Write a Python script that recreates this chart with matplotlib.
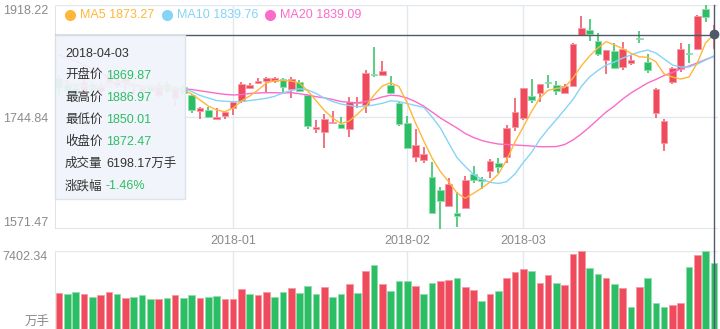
import matplotlib
matplotlib.use('Agg')
import matplotlib.pyplot as plt
from matplotlib.patches import Rectangle
from matplotlib.lines import Line2D

plt.rcParams['font.family'] = ['Liberation Sans', 'Noto Sans CJK SC', 'DejaVu Sans']

# ---- data ----
open_ = [1805, 1797, 1790, 1780, 1796, 1786, 1800, 1795, 1800, 1795, 1785, 1792, 1780, 1797, 1775, 1792,
         1779.36, 1755.06, 1756.14, 1742.67, 1746.85, 1759.70, 1770.07, 1790.66, 1797.47, 1801.50,
         1801.50, 1803.66, 1788.18, 1799.95, 1779.36, 1727.19, 1722.55, 1735.55, 1734.00, 1726.73,
         1766.51, 1763.88, 1811.87, 1809.86, 1794.84, 1767.44, 1735.55, 1682.92, 1678.74, 1652.89,
         1632.30, 1608.00, 1597.16, 1603.97, 1656.60, 1649.33, 1661.71, 1674.10, 1683.85, 1730.29,
         1743.29, 1777.81, 1781.99, 1799.02, 1794.84, 1782.92, 1793.29, 1872.24, 1879.98, 1863.42,
         1833.54, 1847.94, 1823.17, 1828.43, 1868.06, 1830.91, 1751.96, 1704.59, 1799.95, 1819.14,
         1844.84, 1850.10, 1912.02, 1869.87]
close = [1790, 1786, 1775, 1800, 1788, 1794, 1812, 1800, 1805, 1795, 1790, 1786, 1795, 1785, 1790, 1783,
         1756.14, 1758.77, 1745.77, 1745.77, 1753.51, 1768.99, 1795.92, 1794.84, 1801.50, 1806.14,
         1805.21, 1792.21, 1803.66, 1786.02, 1731.84, 1730.29, 1741.74, 1738.03, 1727.81, 1768.99,
         1768.99, 1813.88, 1809.86, 1816.98, 1782.92, 1734.47, 1696.85, 1701.96, 1688.03, 1597.16,
         1615.74, 1641.12, 1592.05, 1647.78, 1647.78, 1646.70, 1677.19, 1668.37, 1728.74, 1753.51,
         1789.73, 1771.62, 1795.92, 1797.47, 1786.02, 1793.29, 1857.84, 1882.61, 1873.32, 1842.36,
         1849.02, 1821.62, 1850.10, 1833.54, 1865.58, 1818.06, 1788.18, 1739.58, 1820.69, 1850.57,
         1842.36, 1901.65, 1900.20, 1872.47]
high = [1810, 1802, 1795, 1805, 1800, 1798, 1816, 1804, 1808, 1798, 1794, 1796, 1798, 1800, 1793, 1795,
        1780.90, 1760.32, 1760.32, 1758.77, 1753.51, 1770.54, 1799.95, 1797.47, 1805.21, 1807.69,
        1807.69, 1806.14, 1806.76, 1802.58, 1779.36, 1740.66, 1749.95, 1754.59, 1744.84, 1776.73,
        1776.73, 1818.06, 1853.20, 1831.99, 1808.77, 1768.99, 1746.85, 1726.73, 1699.33, 1675.18,
        1637.41, 1650.41, 1628.74, 1654.44, 1669.45, 1652.89, 1680.29, 1681.37, 1732.92, 1774.25,
        1789.73, 1804.13, 1795.92, 1810.32, 1801.03, 1795.92, 1859.39, 1902.12, 1897.01, 1875.80,
        1849.02, 1859.39, 1861.87, 1841.28, 1878.43, 1842.83, 1789.73, 1741.74, 1823.17, 1859.39,
        1858.31, 1903.20, 1918.22, 1886.97]
low = [1778, 1780, 1770, 1772, 1783, 1782, 1796, 1790, 1786, 1780, 1780, 1782, 1776, 1782, 1762, 1780,
       1751.96, 1741.74, 1743.29, 1741.74, 1741.74, 1748.40, 1767.44, 1788.18, 1795.92, 1784.47,
       1797.47, 1782.92, 1775.18, 1784.47, 1726.73, 1720.07, 1696.85, 1734.47, 1726.26, 1714.81,
       1758.77, 1751.96, 1807.69, 1809.86, 1780.90, 1731.37, 1696.85, 1676.11, 1674.56, 1597.16,
       1571.50, 1608.00, 1575.49, 1603.97, 1643.60, 1633.38, 1650.41, 1658.15, 1673.63, 1723.63,
       1740.66, 1767.44, 1768.99, 1789.73, 1779.36, 1781.99, 1793.29, 1872.24, 1863.42, 1840.20,
       1811.87, 1821.62, 1818.06, 1825.80, 1859.39, 1813.88, 1744.22, 1693.14, 1796.39, 1815.43,
       1828.43, 1849.02, 1892.83, 1850.01]
volume = [3375, 3281, 3526, 3281, 3054, 3214, 3526, 3309, 2959, 3025, 3214, 2865, 2865, 2959, 3243, 2931,
          3243, 2931, 3025, 3091, 2808, 2808, 3753, 3309, 3186, 3498, 3025, 3498, 3876, 3432,
          4065, 3309, 3971, 2997, 3309, 4254, 3432, 5483, 6022, 4254, 3593, 4510, 4538, 4065,
          3281, 4320, 4538, 4632, 4850, 3971, 3659, 2647, 3281, 3593, 4822, 5360, 5644, 5455,
          4349, 5077, 4377, 4188, 7062, 7380, 5795, 5200, 4793, 4254, 3848, 2080, 3942, 4793,
          2458, 2080, 2269, 2430, 5861, 6968, 7402.34, 6198.17]
vol_up = [1, 0, 0, 1, 0, 1, 1, 0, 1, 0, 0, 0, 1, 0, 1, 0, 0, 1, 0, 0, 1, 1, 1, 0, 1, 1, 0, 0, 1, 0,
          0, 0, 1, 0, 0, 1, 0, 1, 0, 1, 0, 0, 0, 1, 0, 0, 1, 1, 0, 1, 1, 0, 1, 0, 1, 1, 1, 0, 1, 1,
          0, 1, 1, 1, 0, 0, 1, 0, 1, 0, 1, 0, 0, 0, 1, 1, 0, 1, 0, 0]
ma5 = [1802.6, 1799.5, 1796.4, 1793.3, 1791.7, 1793.3, 1796.4, 1799.5, 1799.5, 1796.4, 1793.3, 1791.7,
       1791.7, 1790.2, 1788.6, 1787.1, 1780.9, 1771.6, 1762.3, 1756.1, 1753.5, 1759.2, 1770.1, 1777.8,
       1787.1, 1797.9, 1801.5, 1801.8, 1801.0, 1797.9, 1785.6, 1770.8, 1755.4, 1743.8, 1735.2, 1739.1,
       1749.9, 1761.6, 1779.4, 1793.3, 1798.4, 1792.5, 1767.0, 1736.0, 1708.2, 1681.8, 1660.9, 1645.2,
       1627.7, 1619.5, 1627.2, 1635.4, 1644.7, 1657.1, 1678.7, 1706.6, 1729.8, 1753.8, 1774.7, 1786.6,
       1789.6, 1791.0, 1805.7, 1824.3, 1839.7, 1852.1, 1861.9, 1856.8, 1851.3, 1843.9, 1838.6, 1837.7,
       1830.9, 1811.9, 1807.2, 1804.1, 1807.2, 1828.9, 1859.9, 1873.27]
ma10 = [1796.4, 1794.8, 1793.3, 1793.3, 1791.7, 1791.7, 1791.7, 1793.3, 1793.3, 1793.3, 1791.7, 1791.7,
        1791.7, 1790.2, 1790.2, 1790.2, 1784.8, 1778.6, 1774.7, 1770.8, 1769.6, 1769.0, 1769.3, 1770.8,
        1772.4, 1774.3, 1777.3, 1782.5, 1786.3, 1789.1, 1787.1, 1781.7, 1774.7, 1769.3, 1765.4, 1763.1,
        1761.3, 1761.9, 1763.9, 1766.5, 1770.4, 1769.3, 1766.2, 1763.1, 1760.3, 1745.3, 1728.3, 1705.1,
        1682.6, 1668.7, 1656.3, 1648.6, 1644.2, 1642.4, 1645.2, 1657.1, 1674.9, 1690.4, 1710.5, 1726.7,
        1741.4, 1756.9, 1772.4, 1792.5, 1807.2, 1817.3, 1825.8, 1830.4, 1836.6, 1841.3, 1845.9, 1849.0,
        1844.4, 1835.1, 1825.8, 1822.7, 1822.7, 1827.4, 1833.5, 1839.76]
ma20 = [1841.3, 1836.6, 1832.0, 1825.8, 1819.6, 1813.4, 1807.2, 1802.6, 1797.9, 1794.8, 1793.3, 1791.7,
        1791.0, 1790.2, 1789.4, 1788.6, 1787.9, 1785.9, 1784.0, 1782.0, 1780.4, 1779.4, 1780.1, 1781.7,
        1782.5, 1782.9, 1782.9, 1782.5, 1782.9, 1781.4, 1779.4, 1776.7, 1775.0, 1772.4, 1769.3, 1768.1,
        1767.4, 1769.3, 1772.4, 1776.3, 1779.1, 1778.1, 1774.7, 1769.0, 1762.0, 1753.0, 1743.8, 1736.0,
        1728.3, 1719.8, 1713.6, 1708.9, 1705.8, 1703.5, 1702.7, 1702.0, 1701.2, 1700.4, 1699.3, 1699.3,
        1699.6, 1702.7, 1709.7, 1719.0, 1729.8, 1741.4, 1753.0, 1762.3, 1773.2, 1782.5, 1790.2, 1797.9,
        1803.4, 1809.6, 1814.2, 1819.6, 1824.3, 1828.9, 1834.3, 1839.09]
tick_idx = [21, 42, 56]
tick_labels = ['2018-01', '2018-02', '2018-03']
price_min, price_max = 1571.47, 1918.22
price_labels = ['1571.47', '1744.84', '1918.22']
vol_max = 7402.34

RED = '#F04B5C'
GREEN = '#2CBE64'
RED_EDGE = '#F59AA5'
GREEN_EDGE = '#93DDB0'
GRID = '#E3E7EE'
AXCOL = '#DADFE6'
LABEL = '#8A8A8A'
CROSS = '#4E5A6A'
C5, C10, C20 = '#FFB73A', '#86D4F6', '#FB6BCB'

W, H = 720, 329
fig = plt.figure(figsize=(W / 100, H / 100), dpi=100)
fig.patch.set_facecolor('white')

def fx(px):
    return px / W

def fy(py):
    return 1 - py / H

L, R = 55, 718
ax = fig.add_axes([fx(L), fy(229.3), (R - L) / W, 224 / H])
vax = fig.add_axes([fx(L), 0, (R - L) / W, 78.3 / H])

n = len(close)
for a in (ax, vax):
    a.set_xlim(-0.5, n - 0.5)
    for s in a.spines.values():
        s.set_visible(False)
    a.tick_params(length=0)
    for t in tick_idx:
        a.axvline(t, color=GRID, lw=1, zorder=0)
    a.axvline(-0.5, color=AXCOL, lw=1.2, zorder=0)

# ---- candles ----
ax.set_ylim(price_min, price_max)
mid = (price_min + price_max) / 2
ax.axhline(price_max, color=GRID, lw=1, zorder=0)
ax.axhline(mid, color=GRID, lw=1, zorder=0)
ax.axhline(price_min, color=AXCOL, lw=1.2, zorder=0)

min_body = (price_max - price_min) / 224 * 1.2
for i in range(n):
    up = close[i] >= open_[i]
    col = RED if up else GREEN
    ecol = RED_EDGE if up else GREEN_EDGE
    ax.vlines(i, low[i], high[i], color=col, lw=1.1, zorder=2)
    b0 = min(open_[i], close[i])
    h = max(abs(close[i] - open_[i]), min_body)
    ax.bar(i, h, bottom=b0, width=0.8, color=col, edgecolor=ecol, linewidth=0.6, zorder=3)

x = list(range(n))
ax.plot(x, ma20, color=C20, lw=1.0, zorder=4)
ax.plot(x, ma10, color=C10, lw=1.0, zorder=4)
ax.plot(x, ma5, color=C5, lw=1.0, zorder=4)

ax.set_yticks([price_min, mid, price_max])
ax.set_yticklabels(price_labels, color=LABEL, fontsize=9)
ylabs = ax.get_yticklabels()
ylabs[0].set_va('bottom')
ylabs[2].set_va('top')
ax.tick_params(axis='y', pad=5)
ax.set_xticks(tick_idx)
ax.set_xticklabels(tick_labels, color=LABEL, fontsize=9)
ax.tick_params(axis='x', pad=4)

# ---- volume ----
vax.set_ylim(0, vol_max)
vax.axhline(vol_max, color=GRID, lw=1, zorder=0)
for i in range(n):
    col = RED if vol_up[i] else GREEN
    ecol = RED_EDGE if vol_up[i] else GREEN_EDGE
    vax.bar(i, volume[i], width=0.8, color=col, edgecolor=ecol, linewidth=0.6, zorder=3)
vax.set_yticks([vol_max])
vax.set_yticklabels(['%.2f' % vol_max], color=LABEL, fontsize=9, va='top')
vax.tick_params(axis='y', pad=5)
vax.set_xticks([])
fig.text(fx(50), fy(322), '万手', ha='right', va='center', color=LABEL, fontsize=9)

# ---- crosshair ----
last = n - 1
xc = ax.transData.transform((last, 0))[0] / fig.dpi / fig.get_figwidth()
fig.add_artist(Line2D([xc, xc], [fy(5.3), 0], color=CROSS, lw=1, zorder=6,
                      transform=fig.transFigure))
ax.axhline(close[last], color=CROSS, lw=1, zorder=6)
ax.plot([last], [ma5[last]], 'o', color=CROSS, ms=6, zorder=7, clip_on=False)

# ---- legend ----
leg = [('MA5', ma5[last], C5, 70), ('MA10', ma10[last], C10, 167), ('MA20', ma20[last], C20, 270)]
for name, val, c, px in leg:
    fig.add_artist(Line2D([fx(px)], [fy(15)], marker='o', ms=7, color=c, transform=fig.transFigure))
    fig.text(fx(px + 10), fy(15), '%s %.2f' % (name, val), color=c, fontsize=9, va='center')

# ---- tooltip ----
fig.add_artist(Rectangle((fx(55), fy(199)), fx(185) - fx(55), (199 - 35) / H,
                         transform=fig.transFigure, facecolor='#F1F4FB', alpha=0.93,
                         edgecolor='#DCE1E9', lw=1, zorder=10))
prev_close = close[last - 1]
rows = [('开盘价', '%.2f' % open_[last], GREEN),
        ('最高价', '%.2f' % high[last], GREEN),
        ('最低价', '%.2f' % low[last], GREEN),
        ('收盘价', '%.2f' % close[last], GREEN),
        ('成交量', '%.2f万手' % volume[last], '#333333'),
        ('涨跌幅', '%.2f%%' % ((close[last] - prev_close) / prev_close * 100), GREEN)]
fig.text(fx(65), fy(54), '2018-04-03', color='#333333', fontsize=9, va='center', zorder=11)
for k, (lab, val, c) in enumerate(rows):
    yy = 76 + k * 22
    fig.text(fx(65), fy(yy), lab, color='#333333', fontsize=9, va='center', zorder=11)
    fig.text(fx(106), fy(yy), val, color=c, fontsize=9, va='center', zorder=11)

fig.savefig('out.png', dpi=100, facecolor='white')
